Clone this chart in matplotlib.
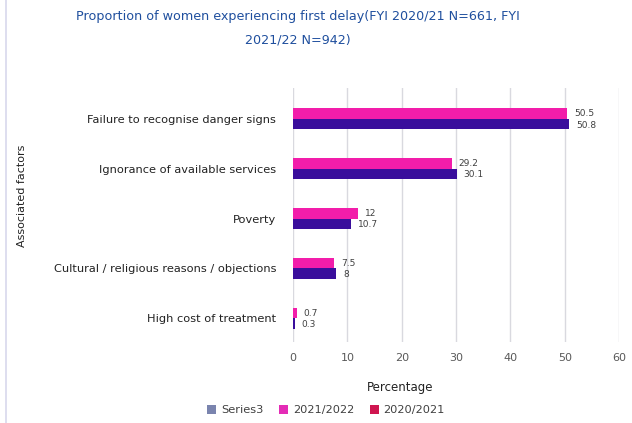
import matplotlib
matplotlib.use("Agg")
import matplotlib.pyplot as plt
from matplotlib.patches import Patch
from matplotlib.lines import Line2D
import numpy as np

categories = [
    "Failure to recognise danger signs",
    "Ignorance of available services",
    "Poverty",
    "Cultural / religious reasons / objections",
    "High cost of treatment",
]
values_2021_22 = [50.5, 29.2, 12, 7.5, 0.7]
values_2020_21 = [50.8, 30.1, 10.7, 8, 0.3]
legend_labels = ["Series3", "2021/2022", "2020/2021"]
x_ticks = [0, 10, 20, 30, 40, 50, 60]

pink = "#F21DAA"
purple = "#3A0E9C"
legend_colors = ["#7A84AE", "#E42CB6", "#CF1650"]
text_dark = "#404040"

fig = plt.figure(figsize=(6.32, 4.23), dpi=100)
fig.patch.set_facecolor("white")

ax = fig.add_axes([0.4636, 0.191, 0.516, 0.601])

y = np.arange(len(categories))
h = 0.21
ax.barh(y - h / 2, values_2021_22, height=h, color=pink, zorder=3)
ax.barh(y + h / 2, values_2020_21, height=h, color=purple, zorder=3)

for yi, v in zip(y, values_2021_22):
    ax.text(v + 1.3, yi - h / 2, f"{v:g}", va="center", ha="left", fontsize=6.5, color=text_dark)
for yi, v in zip(y, values_2020_21):
    ax.text(v + 1.3, yi + h / 2 + 0.02, f"{v:g}", va="center", ha="left", fontsize=6.5, color=text_dark)

ax.set_xlim(0, 60)
ax.set_ylim(4.48, -0.62)
ax.set_xticks(x_ticks)
ax.set_yticks(y)
ax.set_yticklabels(categories, fontsize=8.2, color="#222222")
ax.tick_params(axis="y", length=0, pad=12)
ax.tick_params(axis="x", length=0, pad=8, labelsize=8, labelcolor="#595959")
ax.grid(axis="x", color="#D9D9DF", linewidth=1.0, zorder=0)
for s in ax.spines.values():
    s.set_visible(False)

fig.text(0.633, 0.083, "Percentage", ha="center", va="center", fontsize=8.5, color="#222222")
fig.text(0.035, 0.537, "Associated factors", ha="center", va="center", rotation=90,
         fontsize=8, color="#222222")

fig.text(0.472, 0.96, "Proportion of women experiencing first delay(FYI 2020/21 N=661, FYI",
         ha="center", va="center", fontsize=9.2, color="#1F4F9E")
fig.text(0.472, 0.906, "2021/22 N=942)", ha="center", va="center", fontsize=9.2, color="#1F4F9E")

handles = [Patch(facecolor=c, edgecolor="none") for c in legend_colors]
fig.legend(handles, legend_labels, loc="center", bbox_to_anchor=(0.516, 0.03), ncol=3,
           frameon=False, fontsize=8.2, handlelength=0.8, handleheight=0.8,
           handletextpad=0.4, columnspacing=1.4, labelcolor="#404040")

# light frame line at the left edge
fig.add_artist(Line2D([0.01, 0.01], [0.0, 1.0], transform=fig.transFigure,
                      color="#D8D8EC", linewidth=1.2))

fig.savefig("out.png", dpi=100, facecolor="white")
